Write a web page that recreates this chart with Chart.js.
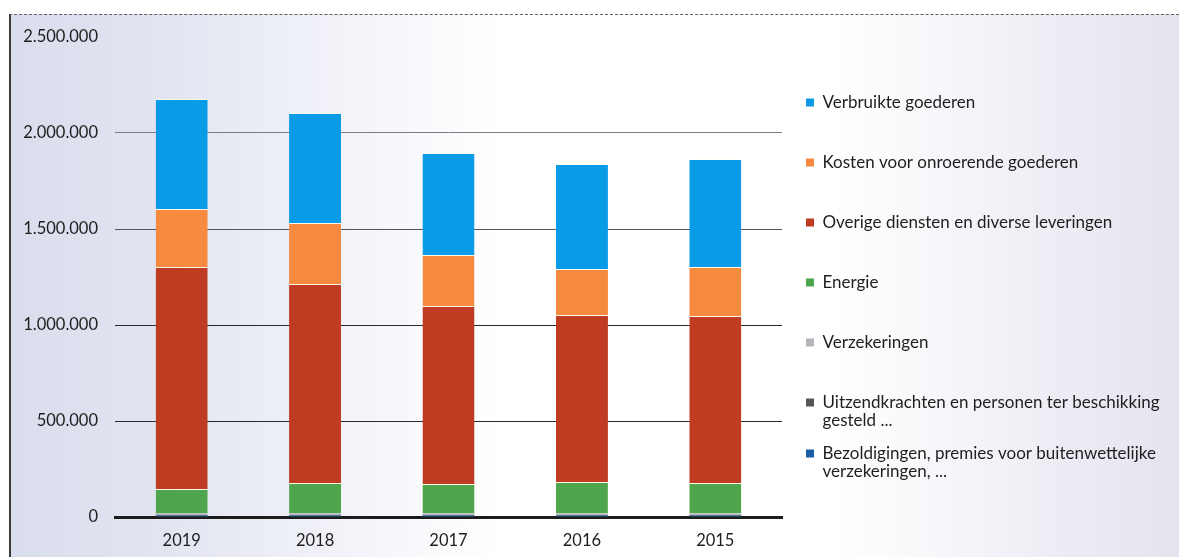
<!DOCTYPE html>
<html>
<head>
<meta charset="utf-8">
<script src="https://cdn.jsdelivr.net/npm/chart.js@4/dist/chart.umd.min.js"></script>
<style>
  html, body { margin: 0; padding: 0; background: #ffffff; }
  #wrap { position: relative; width: 1179px; height: 557px; overflow: hidden; background: #ffffff; }
  #frame {
    position: absolute; left: 9px; top: 14px; right: 0; bottom: 0;
    border-top: 1.5px dashed #5e5e5e; border-left: 2px solid #3a3a3a;
    background: linear-gradient(to right, #dadded 0%, #e3e5f1 14%, #f4f5fa 30%, #ffffff 42%, #ffffff 70%, #f4f5f9 82%, #eaebf3 92%, #e4e4ef 100%);
  }
  canvas { position: absolute; left: 0; top: 0; }
</style>
</head>
<body>
<div id="wrap">
  <div id="frame"></div>
  <canvas id="c" width="1179" height="557"></canvas>
</div>
<script>
// ---- data ----
const years = ['2019', '2018', '2017', '2016', '2015'];

const bezoldigingen   = [6000, 6000, 6000, 6000, 6000];
const uitzendkrachten = [4000, 4000, 4000, 4000, 4000];
const verzekeringen   = [8000, 8000, 8000, 8000, 8000];
const energie         = [128000, 159000, 154000, 164000, 159000];
const overigeDiensten = [1156000, 1036000, 927000, 870000, 870000];
const kostenOnroerend = [302000, 318000, 266000, 240000, 255000];
const verbruikteGoed  = [573000, 573000, 531000, 546000, 563000];

const seriesNames = [
  'Bezoldigingen, premies voor buitenwettelijke verzekeringen, ...',
  'Uitzendkrachten en personen ter beschikking gesteld ...',
  'Verzekeringen',
  'Energie',
  'Overige diensten en diverse leveringen',
  'Kosten voor onroerende goederen',
  'Verbruikte goederen'
];
// legend lines (wrapped as in the reference)
const legendLines = [
  ['Bezoldigingen, premies voor buitenwettelijke', '', 'verzekeringen, ...'],
  ['Uitzendkrachten en personen ter beschikking', '', 'gesteld ...'],
  ['Verzekeringen', '', '', ''],
  ['Energie', '', '', ''],
  ['Overige diensten en diverse leveringen', '', '', ''],
  ['Kosten voor onroerende goederen', '', '', ''],
  ['Verbruikte goederen', '', '', '']
];
const yTicks = [0, 500000, 1000000, 1500000, 2000000, 2500000];

const seriesValues = [bezoldigingen, uitzendkrachten, verzekeringen, energie, overigeDiensten, kostenOnroerend, verbruikteGoed];
const seriesColors = ['#1d5ea8', '#555555', '#b4b5bd', '#4fa54b', '#bf3c23', '#f68a3e', '#0a9be7'];

function fmt(v) { return String(v).replace(/\B(?=(\d{3})+(?!\d))/g, '.'); }

const FONT = 'Lato, "Open Sans", sans-serif';
const LEGEND_WIDTH = 397;

const datasets = seriesValues.map((vals, i) => ({
  label: seriesNames[i],
  data: vals,
  backgroundColor: seriesColors[i],
  borderColor: 'rgba(255,250,235,0.85)',
  borderWidth: i >= 3 ? {top: 1, left: 0, right: 0, bottom: 0} : 0,
  borderSkipped: false,
  barPercentage: 0.39,
  categoryPercentage: 1.0
}));

const legendWidthPlugin = {
  id: 'legendWidth',
  beforeLayout(chart) {
    const lg = chart.legend;
    if (lg && !lg._fixedWidth) {
      const orig = lg.fit.bind(lg);
      lg.fit = function () { orig(); this.width = LEGEND_WIDTH; };
      lg._fixedWidth = true;
    }
  }
};

new Chart(document.getElementById('c'), {
  type: 'bar',
  data: { labels: years, datasets: datasets },
  plugins: [legendWidthPlugin],
  options: {
    responsive: false,
    animation: false,
    devicePixelRatio: 1,
    layout: { padding: { top: 37, right: 0, bottom: 0, left: 0 } },
    plugins: {
      tooltip: { enabled: false },
      legend: {
        display: true,
        position: 'right',
        align: 'start',
        reverse: true,
        title: { display: true, text: '', padding: { top: 21, bottom: 0 }, font: { size: 10, lineHeight: 1.2 } },
        labels: {
          boxWidth: 8,
          boxHeight: 8,
          padding: 24,
          color: '#1e1e1e',
          font: { family: FONT, size: 17, lineHeight: 9 / 17 },
          generateLabels: (chart) => {
            const items = Chart.defaults.plugins.legend.labels.generateLabels(chart);
            items.forEach(it => {
              it.text = legendLines[it.datasetIndex];
              it.lineWidth = 0;
              it.strokeStyle = 'rgba(0,0,0,0)';
            });
            return items;
          }
        }
      }
    },
    scales: {
      x: {
        stacked: true,
        grid: { display: false, drawTicks: false },
        border: { display: true, color: '#1c1c1c', width: 3 },
        ticks: { color: '#1e1e1e', padding: 14, font: { family: FONT, size: 16.5 } },
        afterFit: (s) => { s.height = 40; }
      },
      y: {
        stacked: true,
        min: 0,
        max: 2500000,
        afterBuildTicks: (s) => { s.ticks = yTicks.map(v => ({ value: v })); },
        grid: {
          drawTicks: false,
          color: (ctx) => {
            const v = ctx.tick && ctx.tick.value;
            if (v === 0 || v === 2500000) return 'rgba(0,0,0,0)';
            if (v === 2000000) return '#7c7c84';
            if (v === 1500000) return '#55555c';
            return '#2a2a2a';
          },
          lineWidth: 1
        },
        border: { display: false },
        ticks: { color: '#1e1e1e', padding: 17, font: { family: FONT, size: 16.5 }, callback: (v) => fmt(v) },
        afterFit: (s) => { s.width = 115; }
      }
    }
  }
});
</script>
</body>
</html>
